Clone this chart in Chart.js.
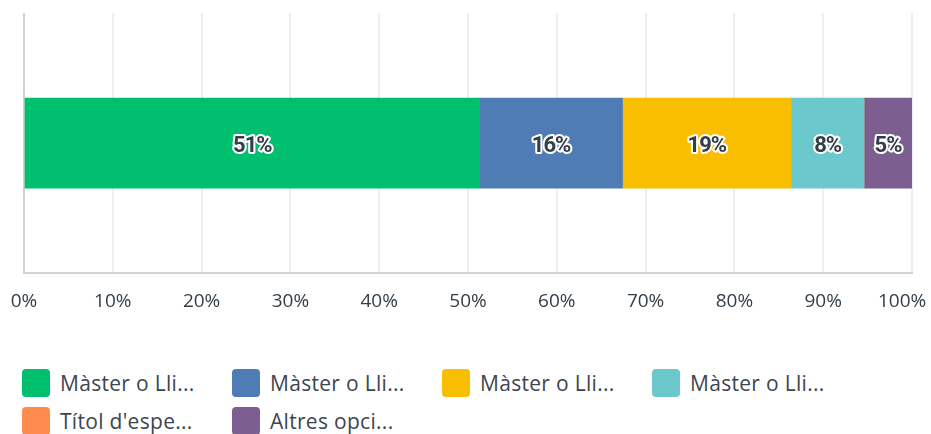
<!DOCTYPE html>
<html>
<head>
<meta charset="utf-8">
<script src="https://cdn.jsdelivr.net/npm/chart.js@4/dist/chart.umd.min.js"></script>
<style>
  html, body { margin: 0; padding: 0; background: #fff; width: 931px; height: 434px; overflow: hidden; }
  #wrap { position: absolute; left: 0; top: 0; width: 931px; height: 337px; }
  #legend { position: absolute; left: 22px; top: 369px; width: 900px; font-family: 'Open Sans', sans-serif; font-size: 21px; letter-spacing: 0.3px; color: #3b4650; }
  .lg-item { position: absolute; display: flex; align-items: center; height: 28px; white-space: nowrap; }
  .lg-box { width: 28px; height: 28px; border-radius: 4px; margin-right: 10px; }
</style>
</head>
<body>
<div id="wrap"><canvas id="c"></canvas></div>
<div id="legend"></div>
<script>
const categories = [''];
const seriesNames = ['Màster o Lli...', 'Màster o Lli...', 'Màster o Lli...', 'Màster o Lli...', "Títol d'espe...", 'Altres opci...'];
const seriesValues = [51.3, 16.1, 19.0, 8.2, 0, 5.4];
const seriesColors = ['#00bf6f', '#507cb6', '#f9be00', '#6bc8cd', '#ff8b4f', '#7d5e90'];
const tickLabels = ['0%', '10%', '20%', '30%', '40%', '50%', '60%', '70%', '80%', '90%', '100%'];

const FONT = "'Open Sans', sans-serif";

// bar labels: bold dark text with white outline, centred in each segment
const barLabels = {
  id: 'barLabels',
  afterDatasetsDraw(chart) {
    const ctx = chart.ctx;
    ctx.save();
    ctx.font = "bold 22px Roboto, sans-serif";
    ctx.letterSpacing = '-1px';
    ctx.textAlign = 'center';
    ctx.textBaseline = 'middle';
    ctx.lineJoin = 'round';
    chart.data.datasets.forEach((ds, i) => {
      const v = ds.data[0];
      if (!v) return;
      const bar = chart.getDatasetMeta(i).data[0];
      const x = (bar.x + bar.base) / 2;
      const txt = Math.round(v) + '%';
      ctx.lineWidth = 4;
      ctx.strokeStyle = '#ffffff';
      ctx.strokeText(txt, x, bar.y + 3);
      ctx.fillStyle = '#333e48';
      ctx.fillText(txt, x, bar.y + 3);
    });
    ctx.restore();
  }
};

new Chart(document.getElementById('c'), {
  type: 'bar',
  data: {
    labels: categories,
    datasets: seriesNames.map((name, i) => ({
      label: name,
      data: [seriesValues[i]],
      backgroundColor: seriesColors[i],
      borderWidth: 0,
      barThickness: 90,
    })),
  },
  options: {
    indexAxis: 'y',
    responsive: true,
    maintainAspectRatio: false,
    animation: false,
    layout: { padding: { left: 24, right: 19, top: 13, bottom: 7 } },
    plugins: {
      legend: { display: false },
      tooltip: { enabled: false },
    },
    scales: {
      x: {
        stacked: true,
        min: 0,
        max: 100,
        afterFit: (scale) => { scale.paddingRight = 0; scale.paddingLeft = 0; },
        grid: {
          drawTicks: false,
          color: (c) => (c.tick && c.tick.value === 0 ? '#d2d2d2' : '#eeeeee'),
          lineWidth: 2,
        },
        border: { display: true, color: '#d2d2d2', width: 2 },
        ticks: {
          stepSize: 10,
          padding: 17,
          color: '#333e48',
          font: { family: FONT, size: 19 },
          // last label pushed left with trailing spaces so it stays inside the canvas
          callback: (v) => {
            const t = tickLabels[Math.round(v / 10)];
            return v === 100 ? t + '    ' : t;
          },
        },
      },
      y: {
        stacked: true,
        display: false,
      },
    },
  },
  plugins: [barLabels],
});

// html legend, fixed 210px columns
const legend = document.getElementById('legend');
seriesNames.forEach((name, i) => {
  const item = document.createElement('div');
  item.className = 'lg-item';
  item.style.left = (i % 4) * 210 + 'px';
  item.style.top = Math.floor(i / 4) * 38 + 'px';
  const box = document.createElement('div');
  box.className = 'lg-box';
  box.style.background = seriesColors[i];
  const txt = document.createElement('span');
  txt.textContent = name;
  item.appendChild(box);
  item.appendChild(txt);
  legend.appendChild(item);
});
</script>
</body>
</html>
